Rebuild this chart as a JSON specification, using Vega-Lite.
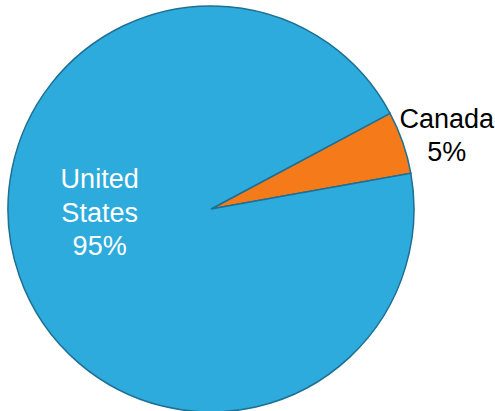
{
  "$schema": "https://vega.github.io/schema/vega-lite/v6.json",
  "width": 422,
  "height": 404,
  "autosize": "none",
  "padding": {"left": 0, "right": 73, "top": 7, "bottom": 0},
  "background": "white",
  "view": {"stroke": null},
  "data": {
    "values": [
      {"country": "Canada", "share": 5, "label": "Canada\n5%"},
      {"country": "United States", "share": 95, "label": "United\nStates\n95%"}
    ]
  },
  "encoding": {
    "theta": {"field": "share", "type": "quantitative", "stack": true, "scale": {"range": [1.08, 7.363]}},
    "order": {"field": "country", "sort": "ascending"}
  },
  "layer": [
    {
      "mark": {"type": "arc", "outerRadius": 203, "stroke": "#1d6f93", "strokeWidth": 1.5},
      "encoding": {
        "color": {
          "field": "country",
          "type": "nominal",
          "scale": {"domain": ["Canada", "United States"], "range": ["#f47a1a", "#2eabdd"]},
          "legend": null
        }
      }
    },
    {
      "transform": [{"filter": "datum.country === 'Canada'"}],
      "mark": {"type": "text", "radius": 252, "thetaOffset": -0.028, "font": "Liberation Sans, Arial, sans-serif", "fontSize": 27, "lineHeight": 33, "lineBreak": "\n", "color": "black", "align": "center", "baseline": "middle"},
      "encoding": {"text": {"field": "label"}}
    },
    {
      "transform": [{"filter": "datum.country === 'United States'"}],
      "mark": {"type": "text", "radius": 115, "thetaOffset": 0.9, "font": "Liberation Sans, Arial, sans-serif", "fontSize": 27, "lineHeight": 33.5, "lineBreak": "\n", "color": "white", "align": "center", "baseline": "middle"},
      "encoding": {"text": {"field": "label"}}
    }
  ]
}
